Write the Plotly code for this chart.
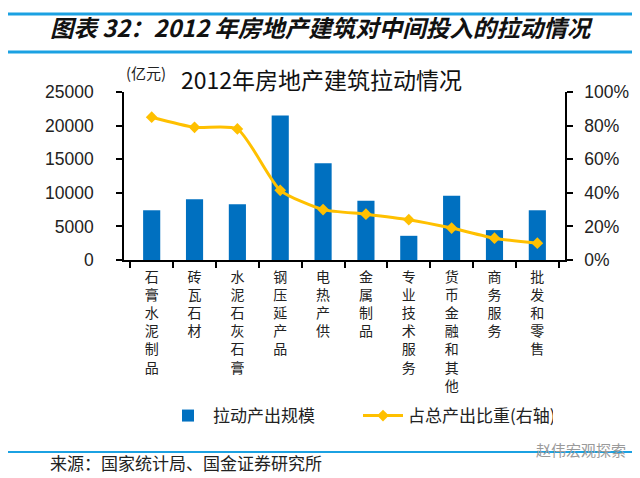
import plotly.graph_objects as go

categories = ["石膏水泥制品", "砖瓦石材", "水泥石灰石膏", "钢压延产品", "电热产供",
              "金属制品", "专业技术服务", "货币金融和其他", "商务服务", "批发和零售"]
output_scale = [7400, 9050, 8300, 21500, 14400, 8800, 3600, 9550, 4450, 7400]
output_share = [0.85, 0.79, 0.78, 0.415, 0.30, 0.273, 0.24, 0.19, 0.13, 0.10]
left_ticks = [0, 5000, 10000, 15000, 20000, 25000]
left_tick_text = ["0", "5000", "10000", "15000", "20000", "25000"]

W, H = 640, 478
L, R, T, B = 116, 83, 84, 226
pw, ph = W - L - R, H - T - B

def px(x):
    return (x - L) / pw

def py(y):
    return (H - B - y) / ph

labels = ["<br>".join(list(c)) for c in categories]
CJK = "Noto Sans CJK SC"
NUM = "Liberation Sans, Arial"

fig = go.Figure()
fig.add_trace(go.Bar(x=labels, y=output_scale, name="拉动产出规模",
                     marker=dict(color="#0070C0", line=dict(width=0))))
fig.add_trace(go.Scatter(x=labels, y=output_share, name="占总产出比重(右轴)", yaxis="y2",
                         mode="lines+markers",
                         line=dict(color="#FFC000", width=3, shape="spline", smoothing=0.6),
                         marker=dict(symbol="diamond", size=9, color="#FFC000")))

fig.update_layout(
    width=W, height=H,
    margin=dict(l=L, r=R, t=T, b=B, pad=0),
    paper_bgcolor="white", plot_bgcolor="white",
    bargap=0.6,
    showlegend=True,
    legend=dict(orientation="h", x=px(155), y=py(408), xanchor="left", yanchor="middle",
                font=dict(family=CJK, size=17, color="#222"), itemwidth=40,
                entrywidth=140, entrywidthmode="pixels",
                bgcolor="rgba(0,0,0,0)", traceorder="normal", tracegroupgap=0),
    xaxis=dict(type="category", showline=True, linecolor="black", linewidth=1.5,
               ticks="outside", tickson="boundaries", ticklen=6, tickcolor="black", tickwidth=1.5,
               tickfont=dict(family=CJK, size=14, color="#222"), tickangle=0,
               showgrid=False, zeroline=False, ticklabelstandoff=3),
    yaxis=dict(range=[0, 25000], tickvals=left_ticks, ticktext=left_tick_text, showline=True,
               linecolor="black", linewidth=1.5, ticks="outside", ticklen=6, tickcolor="black",
               tickwidth=1.5, tickfont=dict(family=NUM, size=17.5, color="#222"), showgrid=False,
               zeroline=False, ticklabelstandoff=19),
    yaxis2=dict(range=[0, 1], dtick=0.2, tickformat=".0%", overlaying="y", side="right",
                showline=True, linecolor="black", linewidth=1.5, ticks="outside", ticklen=6,
                tickcolor="black", tickwidth=1.5,
                tickfont=dict(family=NUM, size=17.5, color="#222"), showgrid=False,
                zeroline=False, ticklabelstandoff=8),
)

ann = [
    dict(text="<b><i>图表 32：2012 年房地产建筑对中间投入的拉动情况</i></b>", x=px(40), y=py(0),
         xanchor="left", yanchor="top", font=dict(family=CJK, size=23.5, color="#111")),
    dict(text="2012年房地产建筑拉动情况", x=px(313), y=py(71), xanchor="center", yanchor="middle",
         font=dict(family=CJK, size=23, color="#111")),
    dict(text="(亿元)", x=px(138), y=py(64), xanchor="center", yanchor="middle",
         font=dict(family=CJK, size=15, color="#222")),
    dict(text="来源：国家统计局、国金证券研究所", x=px(40), y=py(454), xanchor="left", yanchor="middle",
         font=dict(family=CJK, size=17, color="#222")),
    dict(text="赵伟宏观探索", x=px(620), y=py(441), xanchor="right", yanchor="middle",
         font=dict(family=CJK, size=15, color="#9a9a9a")),
]
for a in ann:
    a.update(xref="paper", yref="paper", showarrow=False)
fig.update_layout(annotations=ann)

line_color = "#1BA1E2"
shapes = [
    dict(type="line", x0=px(0), x1=px(640), y0=py(6), y1=py(6), line=dict(color=line_color, width=3)),
    dict(type="line", x0=px(0), x1=px(640), y0=py(44), y1=py(44), line=dict(color=line_color, width=3)),
    dict(type="line", x0=px(0), x1=px(640), y0=py(444), y1=py(444), line=dict(color=line_color, width=2)),
]
for s in shapes:
    s.update(xref="paper", yref="paper", layer="below")
fig.update_layout(shapes=shapes)

fig.write_html("out.html")
